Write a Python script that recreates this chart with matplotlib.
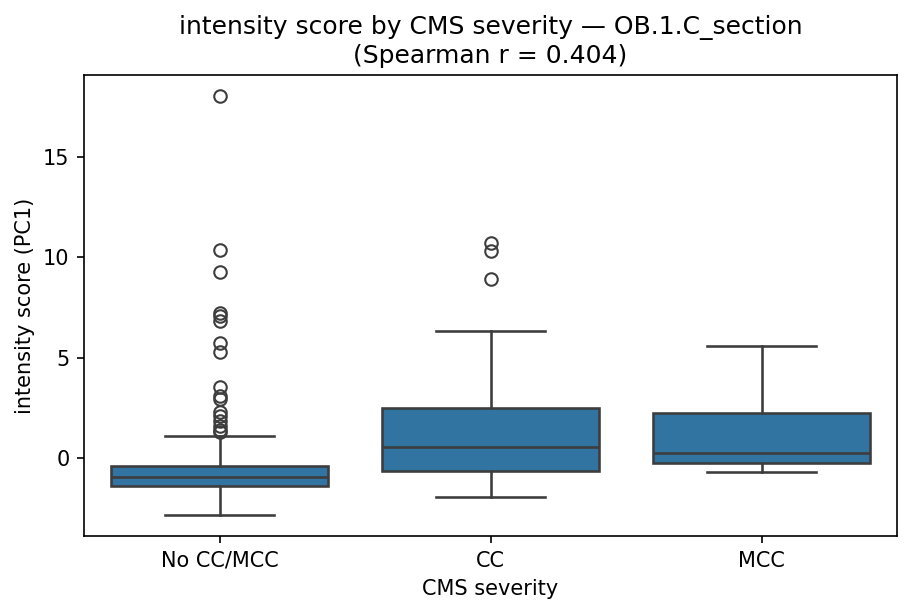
import matplotlib
matplotlib.use("Agg")
import matplotlib.pyplot as plt

categories = ["No CC/MCC", "CC", "MCC"]
q1 = [-1.39, -0.63, -0.23]
med = [-0.94, 0.55, 0.26]
q3 = [-0.40, 2.48, 2.24]
whislo = [-2.83, -1.92, -0.68]
whishi = [1.09, 6.31, 5.58]
fliers = [
    [18.03, 10.35, 9.27, 7.24, 7.07, 6.83, 5.75, 5.30, 3.56, 3.09, 2.96,
     2.32, 2.10, 1.85, 1.60, 1.41, 1.31],
    [10.70, 10.32, 8.94],
    [],
]

stats = []
for i, c in enumerate(categories):
    stats.append(dict(label=c, q1=q1[i], med=med[i], q3=q3[i],
                      whislo=whislo[i], whishi=whishi[i], fliers=fliers[i]))

line = "#3d3d3d"
fig, ax = plt.subplots(figsize=(6.087, 4.1), dpi=150)
ax.bxp(stats, positions=range(len(categories)), widths=0.8, patch_artist=True,
       boxprops=dict(facecolor="#3274a1", edgecolor=line, linewidth=1.25),
       medianprops=dict(color=line, linewidth=1.25),
       whiskerprops=dict(color=line, linewidth=1.25),
       capprops=dict(color=line, linewidth=1.25), capwidths=0.4,
       flierprops=dict(marker="o", markerfacecolor="none", markeredgecolor=line,
                       markersize=6, markeredgewidth=1.0))
ax.set_xlim(-0.5, 2.5)
ax.set_xlabel("CMS severity")
ax.set_ylabel("intensity score (PC1)")
ax.set_title("intensity score by CMS severity — OB.1.C_section\n(Spearman r = 0.404)")
fig.subplots_adjust(left=0.092, right=0.9825, top=0.878, bottom=0.1285)
fig.savefig("out.png")
